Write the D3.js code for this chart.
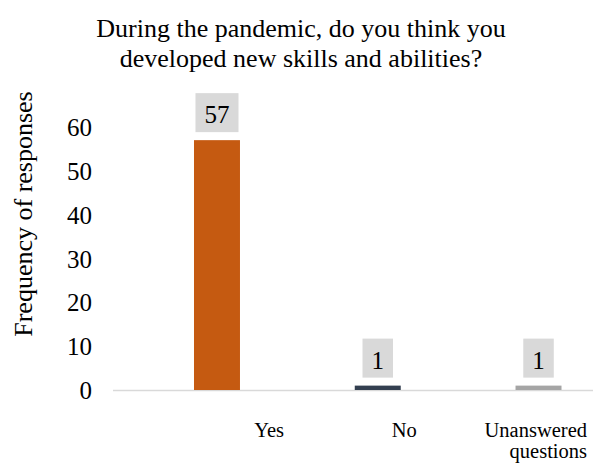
<!DOCTYPE html>
<html><head><meta charset="utf-8">
<script src="https://cdn.jsdelivr.net/npm/d3@7"></script>
<style>
html,body{margin:0;padding:0;background:#fff;}
svg{display:block;font-family:"Liberation Serif","Times New Roman",serif;}
</style></head>
<body><svg id="c" width="593" height="463"></svg>
<script>
const titleLines = ["During the pandemic, do you think you", "developed new skills and abilities?"];
const categories = ["Yes", "No", "Unanswered questions"];
const categoryLines = [["Yes"], ["No"], ["Unanswered", "questions"]];
const values = [57, 1, 1];
const yTicks = [0, 10, 20, 30, 40, 50, 60];
const yTitle = "Frequency of responses";

const colors = ["#c55a11", "#333f50", "#a5a5a5"];
const labelDx = [67, 39, 48.5];

const svg = d3.select("#c");
const y = d3.scaleLinear().domain([0, 60]).range([390, 127]);
const x = d3.scaleBand().domain(categories).range([136.6, 618.9]).paddingInner(0.714).paddingOuter(0.357);

// title
svg.append("text").attr("text-anchor","middle").attr("font-size",26).attr("fill","#000")
  .selectAll("tspan").data(titleLines).join("tspan")
  .attr("x",301).attr("y",(d,i)=>37+i*30).text(d=>d);

// y axis title
svg.append("text").attr("transform","translate(32,214) rotate(-90)")
  .attr("text-anchor","middle").attr("font-size",26).attr("fill","#000").text(yTitle);

// y axis
const ya = svg.append("g").attr("transform","translate(92,0)")
  .call(d3.axisLeft(y).tickValues(yTicks).tickSize(0).tickPadding(0));
ya.select(".domain").remove();
ya.selectAll("text").attr("font-size",25).attr("font-family","Liberation Serif").attr("fill","#000").attr("dy","0.34em");

// baseline
svg.append("line").attr("x1",113).attr("x2",593).attr("y1",y(0)+0.5).attr("y2",y(0)+0.5)
  .attr("stroke","#d9d9d9").attr("stroke-width",1.5);

// bars
svg.selectAll("rect.bar").data(values).join("rect").attr("class","bar")
  .attr("x",(d,i)=>x(categories[i])).attr("width",x.bandwidth())
  .attr("y",d=>y(d)).attr("height",d=>y(0)-y(d)).attr("fill",(d,i)=>colors[i]);

// data labels
const lg = svg.selectAll("g.lab").data(values).join("g").attr("class","lab");
lg.each(function(d,i){
  const g = d3.select(this);
  const cx = x(categories[i]) + x.bandwidth()/2;
  const t = g.append("text").attr("x",cx).attr("y",y(d)-17).attr("text-anchor","middle")
    .attr("font-size",25).attr("fill","#000").text(d);
  const w = t.node().getComputedTextLength() + 18;
  g.insert("rect","text").attr("x",cx-w/2).attr("y",y(d)-8-39).attr("width",w).attr("height",39).attr("fill","#d9d9d9");
});

// category labels
svg.selectAll("text.cat").data(categoryLines).join("text").attr("class","cat")
  .attr("text-anchor","end").attr("font-size",20.5).attr("fill","#000")
  .each(function(lines,i){
    const cx = x(categories[i]) + x.bandwidth()/2 + labelDx[i];
    d3.select(this).selectAll("tspan").data(lines).join("tspan")
      .attr("x",cx).attr("y",(d,j)=>437+j*21).text(d=>d);
  });
</script></body></html>
